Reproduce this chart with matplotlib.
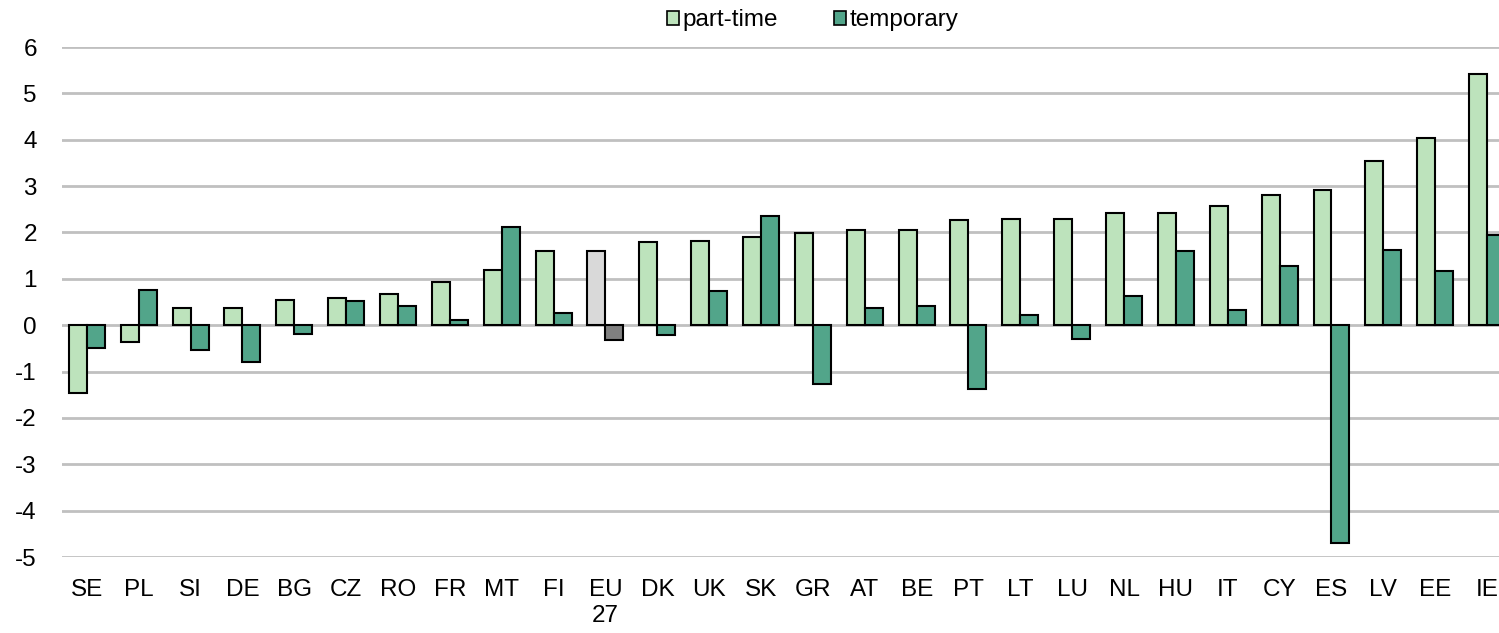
import numpy as np
import matplotlib.pyplot as plt
from matplotlib.patches import Patch

plt.rcParams['font.family'] = ['Liberation Sans', 'DejaVu Sans']
plt.rcParams['axes.unicode_minus'] = False

# countries sorted by part-time change
countries = ["SE", "PL", "SI", "DE", "BG", "CZ", "RO", "FR", "MT", "FI", "EU\n27",
             "DK", "UK", "SK", "GR", "AT", "BE", "PT", "LT", "LU", "NL", "HU",
             "IT", "CY", "ES", "LV", "EE", "IE"]
part_time = [-1.46, -0.36, 0.36, 0.38, 0.55, 0.58, 0.67, 0.94, 1.20, 1.59, 1.61,
             1.79, 1.82, 1.91, 1.98, 2.06, 2.06, 2.26, 2.28, 2.30, 2.42, 2.43,
             2.57, 2.80, 2.92, 3.55, 4.04, 5.42]
temporary = [-0.49, 0.76, -0.53, -0.80, -0.18, 0.52, 0.42, 0.11, 2.11, 0.26, -0.32,
             -0.21, 0.74, 2.35, -1.26, 0.36, 0.41, -1.38, 0.23, -0.29, 0.62, 1.59,
             0.33, 1.27, -4.70, 1.62, 1.16, 1.94]

c_pt = "#BDE3BC"
c_tmp = "#52A58A"
eu_idx = countries.index("EU\n27")

x = np.arange(len(countries))
w = 0.347

fig = plt.figure(figsize=(14.99, 6.33), dpi=100)
ax = fig.add_axes([62/1499, 1-557/633, 1-62/1499, (557-47)/633])

pt_cols = [c_pt] * len(countries)
tmp_cols = [c_tmp] * len(countries)
pt_cols[eu_idx] = "#D9D9D9"
tmp_cols[eu_idx] = "#808080"

ax.bar(x - w/2, part_time, w, color=pt_cols, edgecolor="black", linewidth=1.5, zorder=3)
ax.bar(x + w/2, temporary, w, color=tmp_cols, edgecolor="black", linewidth=1.5, zorder=3)

ax.set_ylim(-5, 6)
ax.set_yticks(range(-5, 7))
ax.set_xlim(-0.48, 27.23)
ax.set_xticks(x)
ax.set_xticklabels(countries, linespacing=1.25)
ax.yaxis.grid(True, color="#C0C0C0", linewidth=2)
ax.set_axisbelow(True)
for s in ax.spines.values():
    s.set_visible(False)
ax.tick_params(axis="both", length=0, labelsize=17.5)
ax.tick_params(axis="y", pad=18)
ax.tick_params(axis="x", pad=16)

# legend
handles = [Patch(facecolor=c_pt, edgecolor="black", linewidth=1.2, label="part-time"),
           Patch(facecolor=c_tmp, edgecolor="black", linewidth=1.2, label="temporary")]
fig.legend(handles=handles, loc="upper center", bbox_to_anchor=(0.542, 1.02), ncol=2,
           frameon=False, fontsize=17.5, handlelength=0.5, handleheight=0.5,
           handletextpad=0.15, columnspacing=2.3)

fig.savefig("out.png", dpi=100)
